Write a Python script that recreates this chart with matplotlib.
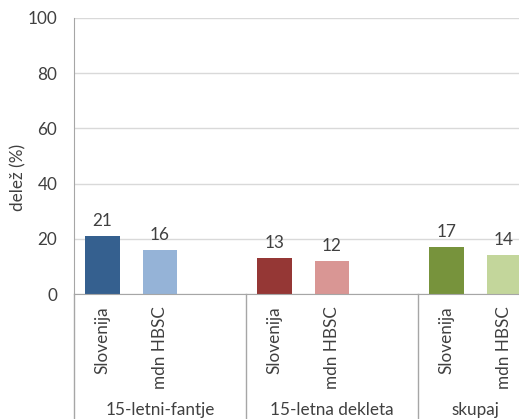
import matplotlib.pyplot as plt

plt.rcParams['font.family'] = ['Lato', 'DejaVu Sans']

groups = ['15-letni-fantje', '15-letna dekleta', 'skupaj']
series = ['Slovenija', 'mdn HBSC']
slovenija = [21, 13, 17]
mdn_hbsc = [16, 12, 14]
dark_colors = ['#35608f', '#953735', '#77933c']
light_colors = ['#95b3d7', '#d99694', '#c3d69b']

FS = 12.3
TXT = '#404040'

fig = plt.figure(figsize=(5.19, 4.19), dpi=100)
# plot area runs past the right edge, so the last group is cut off
ax = fig.add_axes([74 / 519, 125 / 419, 516 / 519, 276 / 419])

ticks = []
labels = []
for g in range(len(groups)):
    x0 = g * 3
    ax.bar(x0, slovenija[g], width=0.6, color=dark_colors[g])
    ax.bar(x0 + 1, mdn_hbsc[g], width=0.6, color=light_colors[g])
    for x, v in [(x0, slovenija[g]), (x0 + 1, mdn_hbsc[g])]:
        ax.annotate(str(v), (x, v), xytext=(0, 5), textcoords='offset points',
                    ha='center', va='bottom', fontsize=FS, color=TXT)
    ticks += [x0, x0 + 1]
    labels += series

# group captions; the last one is pulled left to stay on the figure
for xc, name in zip([1, 4, 6.5], groups):
    ax.text(xc, -0.42, name, transform=ax.get_xaxis_transform(),
            ha='center', va='center', fontsize=FS, color=TXT)

# separators between the groups
for xs in [-0.5, 2.5, 5.5, 8.5]:
    ax.plot([xs, xs], [0, -0.6], transform=ax.get_xaxis_transform(),
            color='#a6a6a6', lw=1, clip_on=False)

ax.set_xlim(-0.5, 8.5)
ax.set_ylim(0, 100)
ax.set_yticks(range(0, 101, 20))
ax.set_xticks(ticks)
ax.set_xticklabels(labels, rotation=90, va='top', fontsize=FS, color=TXT)
ax.tick_params(axis='x', length=0, pad=9)
ax.tick_params(axis='y', length=0, pad=12, labelsize=FS, labelcolor=TXT)
ax.grid(axis='y', color='#d9d9d9', lw=1)
ax.set_axisbelow(True)
for s in ['top', 'right']:
    ax.spines[s].set_visible(False)
ax.spines['left'].set_color('#a6a6a6')
ax.spines['bottom'].set_color('#a6a6a6')

fig.text(18 / 519, 1 - 177 / 419, 'delež (%)', rotation=90, ha='center', va='center',
         fontsize=FS, color=TXT)

fig.savefig('out.png', dpi=100)
